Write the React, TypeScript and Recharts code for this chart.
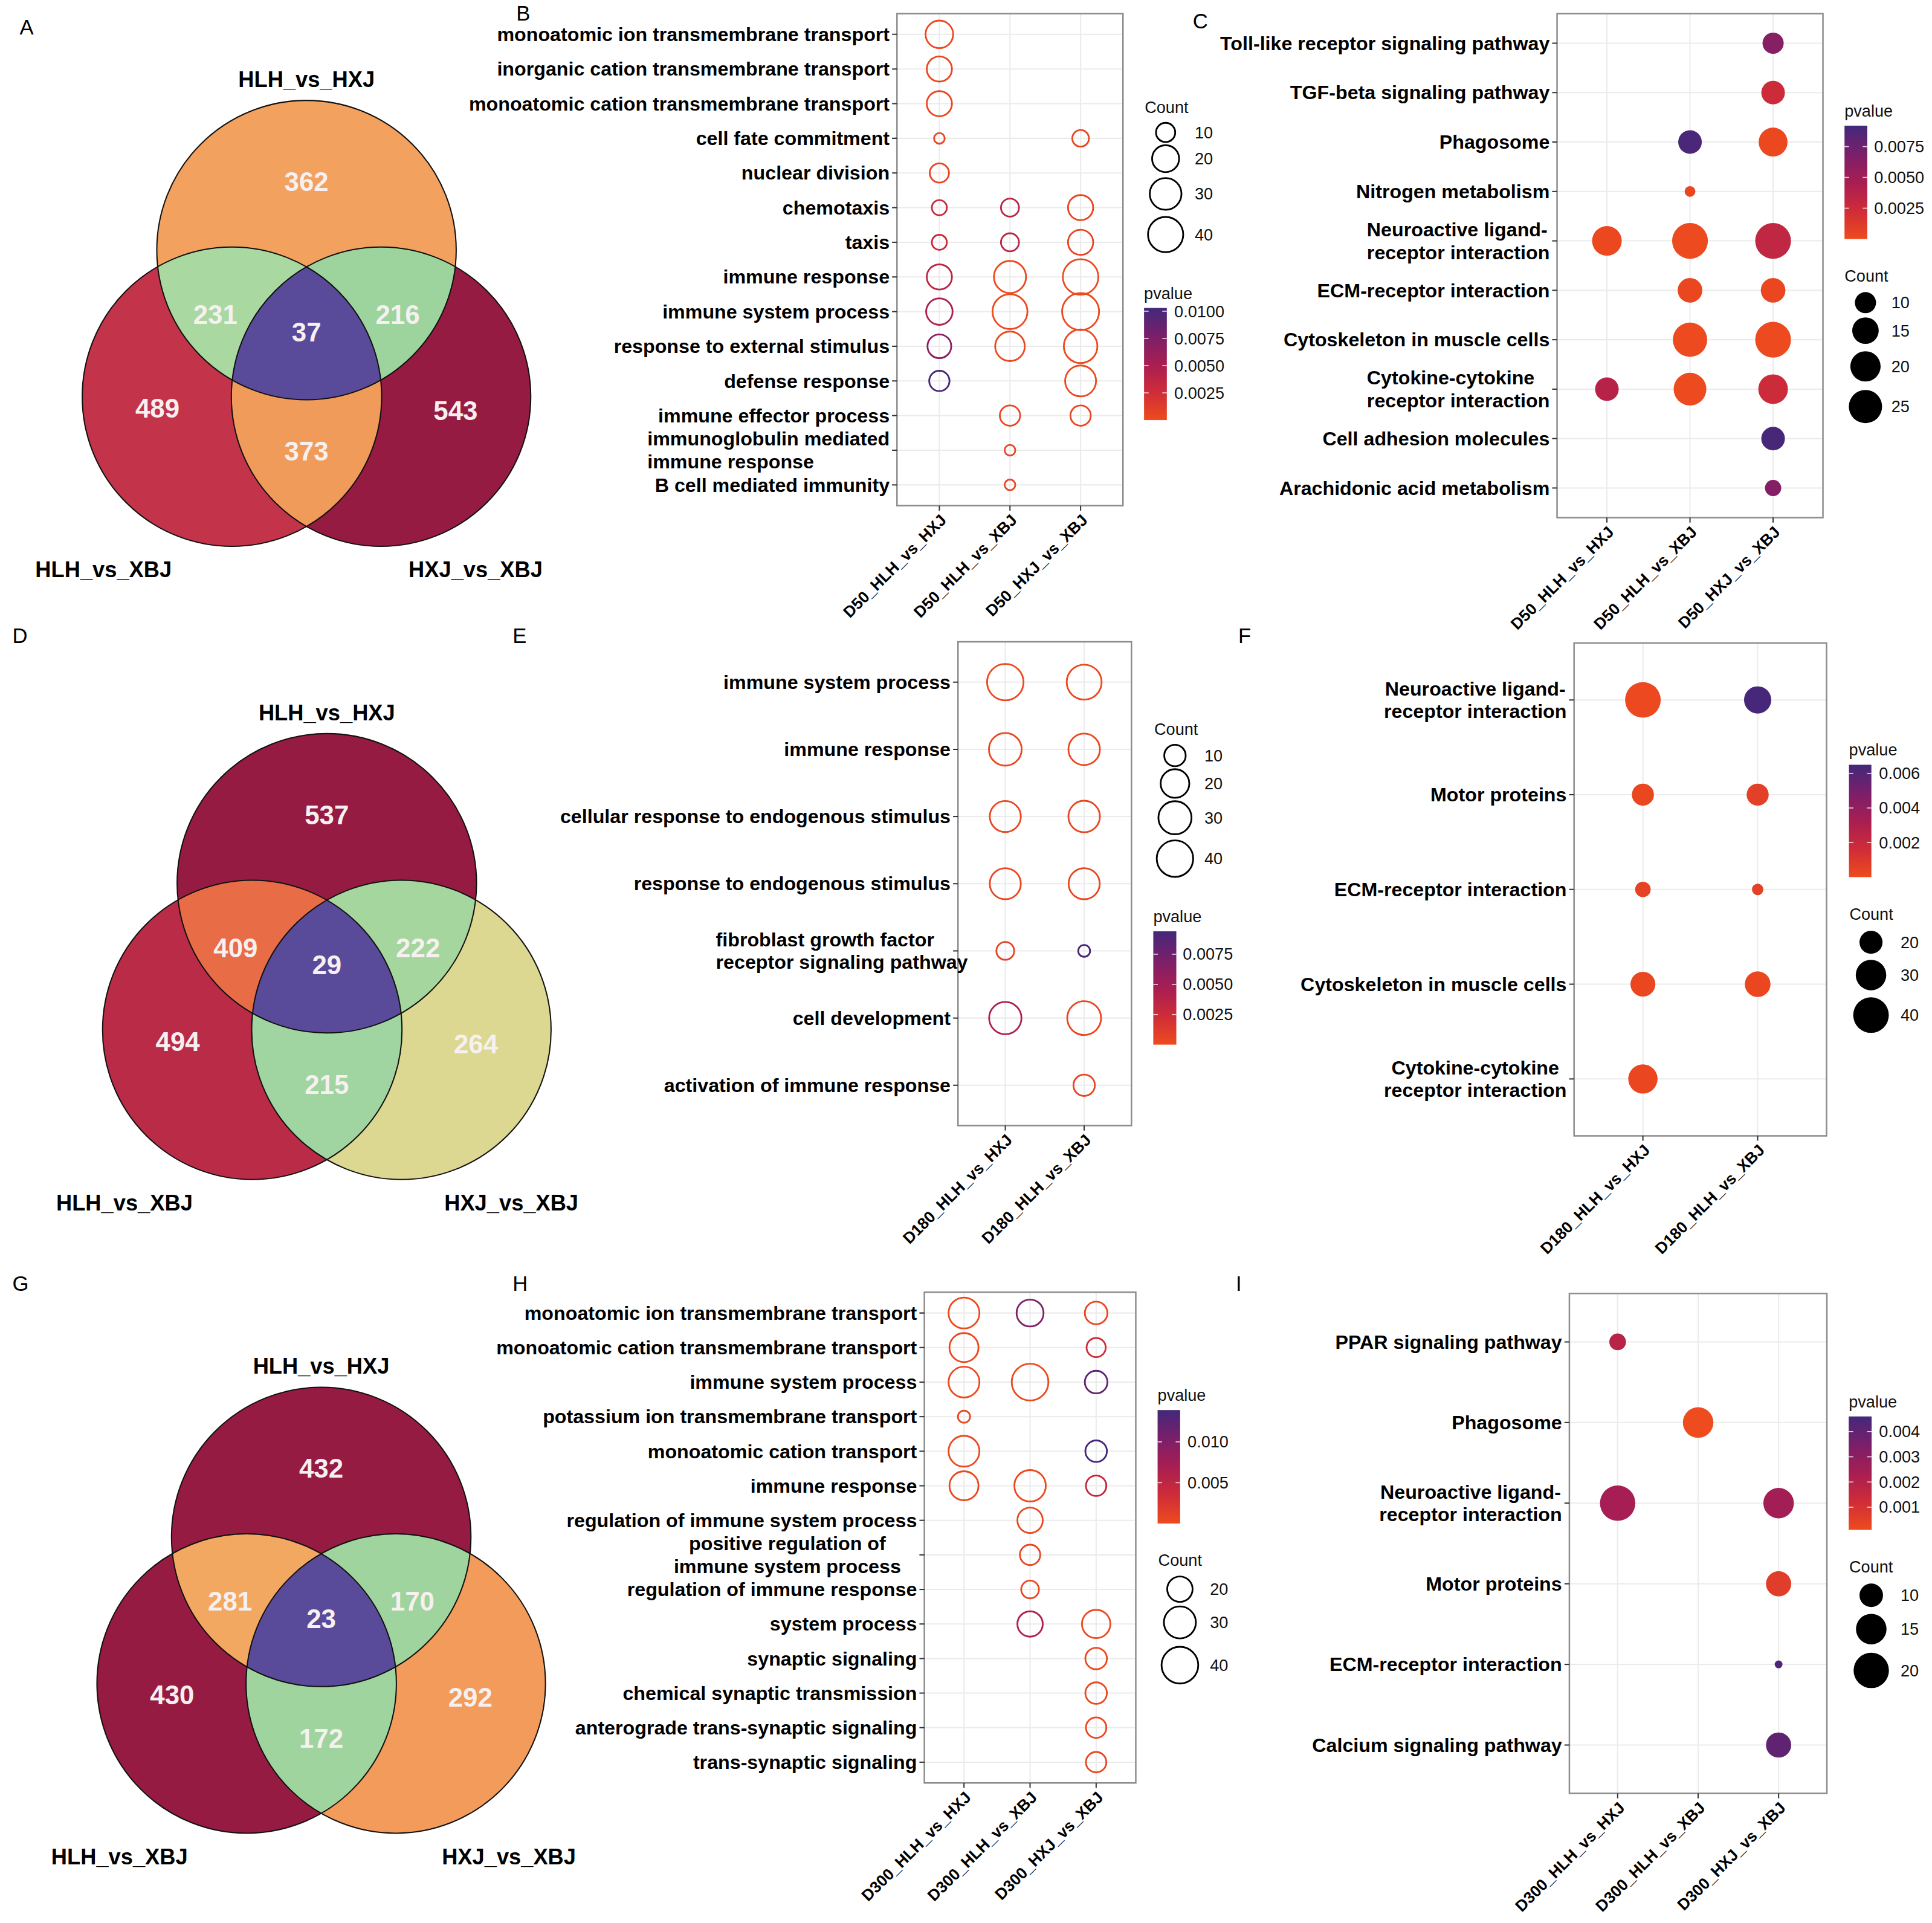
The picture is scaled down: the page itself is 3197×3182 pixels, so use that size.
import React from 'react';
import { ScatterChart, Scatter, XAxis, YAxis, ZAxis, CartesianGrid, ReferenceArea } from 'recharts';

const FONT = '"Liberation Sans", Arial, Helvetica, sans-serif';
// the figure is laid out on a 1568 x 1561 grid and scaled up to the page
const SX = 3197 / 1568;
const SY = 3182 / 1561;

// ---------- Venn data ----------
const vennSets = ['HLH_vs_HXJ', 'HLH_vs_XBJ', 'HXJ_vs_XBJ'];
// order: top only, left only, right only, top&left, top&right, left&right, all three
const vennA = [362, 489, 543, 231, 216, 373, 37];
const vennD = [537, 494, 264, 409, 222, 215, 29];
const vennG = [432, 430, 292, 281, 170, 172, 23];

// ---------- bubble data ----------
const d50Comps = ['D50_HLH_vs_HXJ', 'D50_HLH_vs_XBJ', 'D50_HXJ_vs_XBJ'];
const d180Comps = ['D180_HLH_vs_HXJ', 'D180_HLH_vs_XBJ'];
const d300Comps = ['D300_HLH_vs_HXJ', 'D300_HLH_vs_XBJ', 'D300_HXJ_vs_XBJ'];

const bTerms = [
  'monoatomic ion transmembrane transport',
  'inorganic cation transmembrane transport',
  'monoatomic cation transmembrane transport',
  'cell fate commitment',
  'nuclear division',
  'chemotaxis',
  'taxis',
  'immune response',
  'immune system process',
  'response to external stimulus',
  'defense response',
  'immune effector process',
  'immunoglobulin mediated\nimmune response',
  'B cell mediated immunity',
];
const bCount = [
  [21, null, null], [17, null, null], [17, null, null], [5, null, 8], [10, null, null],
  [7, 9, 17], [7, 9, 17], [17, 31, 41], [19, 39, 46], [15, 25, 35],
  [11, null, 28], [null, 11, 11], [null, 5, null], [null, 5, null],
];
const bPval = [
  [0.0002, null, null], [0.0003, null, null], [0.0003, null, null], [0.0004, null, 0.0004], [0.0005, null, null],
  [0.003, 0.0039, 0.0004], [0.003, 0.0039, 0.0004], [0.0039, 0.0001, 0.0001], [0.0046, 0.0001, 0.0001], [0.0067, 0.0002, 0.0001],
  [0.0101, null, 0.0002], [null, 0.0003, 0.0004], [null, 0.0004, null], [null, 0.0004, null],
];

const cTerms = [
  'Toll-like receptor signaling pathway',
  'TGF-beta signaling pathway',
  'Phagosome',
  'Nitrogen metabolism',
  'Neuroactive ligand-\nreceptor interaction',
  'ECM-receptor interaction',
  'Cytoskeleton in muscle cells',
  'Cytokine-cytokine\nreceptor interaction',
  'Cell adhesion molecules',
  'Arachidonic acid metabolism',
];
const cCount = [
  [null, null, 10], [null, null, 12], [null, 12, 18], [null, 5, null], [19, 30, 30],
  [null, 13, 13], [null, 27, 30], [12, 24, 19], [null, null, 12], [null, null, 7],
];
const cPval = [
  [null, null, 0.0063], [null, null, 0.0025], [null, 0.0089, 0.0002], [null, 0.0003, null], [0.0002, 0.0001, 0.0032],
  [null, 0.0003, 0.0003], [null, 0.0001, 0.0001], [0.0037, 0.0001, 0.0025], [null, null, 0.009], [null, null, 0.0064],
];

const eTerms = [
  'immune system process',
  'immune response',
  'cellular response to endogenous stimulus',
  'response to endogenous stimulus',
  'fibroblast growth factor\nreceptor signaling pathway',
  'cell development',
  'activation of immune response',
];
const eCount = [[40, 35], [29, 26], [25, 26], [25, 25], [7, 4], [28, 32], [null, 10]];
const ePval = [
  [0.0001, 0.0001], [0.0002, 0.0002], [0.0003, 0.0003], [0.0003, 0.0003],
  [0.0005, 0.0092], [0.0043, 0.0003], [null, 0.0004],
];

const fTerms = [
  'Neuroactive ligand-\nreceptor interaction',
  'Motor proteins',
  'ECM-receptor interaction',
  'Cytoskeleton in muscle cells',
  'Cytokine-cytokine\nreceptor interaction',
];
const fCount = [[40, 25], [19, 19], [14, 12], [22, 23], [28, null]];
const fPval = [[0.0001, 0.0064], [0.0002, 0.0006], [0.0004, 0.0005], [0.0002, 0.0002], [0.0002, null]];

const hTerms = [
  'monoatomic ion transmembrane transport',
  'monoatomic cation transmembrane transport',
  'immune system process',
  'potassium ion transmembrane transport',
  'monoatomic cation transport',
  'immune response',
  'regulation of immune system process',
  'positive regulation of\nimmune system process',
  'regulation of immune response',
  'system process',
  'synaptic signaling',
  'chemical synaptic transmission',
  'anterograde trans-synaptic signaling',
  'trans-synaptic signaling',
];
const hCount = [
  [28, 22, 17], [25, null, 14], [28, 40, 17], [10, null, null], [28, null, 16],
  [25, 29, 15], [null, 20, null], [null, 15, null], [null, 13, null], [null, 20, 24],
  [null, null, 16], [null, null, 16], [null, null, 15], [null, null, 15],
];
const hPval = [
  [0.0001, 0.01, 0.0004], [0.0002, null, 0.0035], [0.0001, 0.0001, 0.0122], [0.0004, null, null], [0.0002, null, 0.0136],
  [0.0002, 0.0002, 0.0045], [null, 0.0003, null], [null, 0.0004, null], [null, 0.0004, null], [null, 0.0063, 0.0001],
  [null, null, 0.0002], [null, null, 0.0002], [null, null, 0.0003], [null, null, 0.0003],
];

const iTerms = [
  'PPAR signaling pathway',
  'Phagosome',
  'Neuroactive ligand-\nreceptor interaction',
  'Motor proteins',
  'ECM-receptor interaction',
  'Calcium signaling pathway',
];
const iCount = [[7, null, null], [null, 15, null], [20, null, 15], [null, null, 11], [null, null, 5], [null, null, 11]];
const iPval = [
  [0.0019, null, null], [null, 0.0001, null], [0.0024, null, 0.0025],
  [null, null, 0.0006], [null, null, 0.0044], [null, null, 0.004],
];

// ---------- helpers ----------
const PAL = [
  [238, 75, 30],
  [207, 44, 56],
  [168, 30, 82],
  [122, 31, 106],
  [67, 40, 122],
];
function pColor(p: number, dom: [number, number]) {
  let t = (p - dom[0]) / (dom[1] - dom[0]);
  t = Math.max(0, Math.min(1, t));
  const s = t * (PAL.length - 1);
  const i = Math.min(PAL.length - 2, Math.floor(s));
  const f = s - i;
  const c = PAL[i].map((v, k) => Math.round(v + (PAL[i + 1][k] - v) * f));
  return `rgb(${c[0]},${c[1]},${c[2]})`;
}

let measureCtx: CanvasRenderingContext2D | null = null;
function textWidth(s: string, font: string) {
  if (!measureCtx) measureCtx = document.createElement('canvas').getContext('2d');
  if (!measureCtx) return s.length * 8;
  measureCtx.font = font;
  return measureCtx.measureText(s).width;
}

const YFS = 15.8;

function YTick(props: any) {
  const { x, y, payload, terms, align, mlDx } = props;
  const label: string = terms[payload.value - 1] ?? '';
  const lines = label.split('\n');
  if (lines.length === 1) {
    return (
      <text x={x} y={y} dy={5.5} textAnchor="end" fontFamily={FONT} fontWeight="bold" fontSize={YFS} fill="#000">
        {label}
      </text>
    );
  }
  const w = Math.max(...lines.map((l) => textWidth(l, `bold ${YFS}px ${FONT}`)));
  const lh = 18.5;
  const lx = (align === 'left' ? x - w : x - w / 2) + (mlDx || 0);
  return (
    <text fontFamily={FONT} fontWeight="bold" fontSize={YFS} fill="#000" textAnchor={align === 'left' ? 'start' : 'middle'}>
      {lines.map((ln, k) => (
        <tspan key={k} x={lx} y={y + 5.5 + (k - (lines.length - 1) / 2) * lh}>
          {ln}
        </tspan>
      ))}
    </text>
  );
}

function XTick(props: any) {
  const { x, y, payload, comps } = props;
  const px = x + 6.5;
  const py = y + 6.5;
  return (
    <text x={px} y={py} transform={`rotate(-45 ${px} ${py})`} textAnchor="end" fontFamily={FONT} fontWeight="bold" fontSize={13} fill="#000">
      {comps[payload.value - 1]}
    </text>
  );
}

type PanelProps = {
  terms: string[];
  comps: string[];
  counts: (number | null)[][];
  pvals: (number | null)[][];
  box: [number, number, number, number];
  left: number;
  hollow: boolean;
  pDom: [number, number];
  sizeA: number;
  sizeB: number;
  align: 'left' | 'center';
  mlDx?: number;
};

function BubblePanel(p: PanelProps) {
  const [l, t, r, b] = p.box;
  const pts: { x: number; y: number; z: number; p: number }[] = [];
  p.counts.forEach((row, i) =>
    row.forEach((c, j) => {
      if (c != null) pts.push({ x: j + 1, y: i + 1, z: c, p: p.pvals[i][j] as number });
    })
  );
  const zs = pts.map((d) => d.z);
  const zMin = Math.min(...zs);
  const zMax = Math.max(...zs);
  const area = (v: number) => p.sizeA + p.sizeB * Math.sqrt(v);
  const nX = p.comps.length;
  const nY = p.terms.length;
  const pad = 4;
  const xh = 110;
  const width = r - p.left + pad;
  const height = b - t + pad + xh + pad;
  const xTicks = p.comps.map((_, i) => i + 1);
  const yTicks = p.terms.map((_, i) => i + 1);

  return (
    <div style={{ position: 'absolute', left: p.left, top: t - pad }}>
      <ScatterChart width={width} height={height} margin={{ top: pad, right: pad, bottom: pad, left: 0 }}>
        <CartesianGrid stroke="#ebebeb" strokeWidth={1} />
        <XAxis
          type="number"
          dataKey="x"
          domain={[0.4, nX + 0.6]}
          ticks={xTicks}
          interval={0}
          allowDataOverflow
          height={xh}
          axisLine={false}
          tickSize={4}
          tickLine={{ stroke: '#333' }}
          tick={(tp: any) => <XTick {...tp} comps={p.comps} />}
        />
        <YAxis
          type="number"
          dataKey="y"
          domain={[0.4, nY + 0.6]}
          reversed
          ticks={yTicks}
          interval={0}
          allowDataOverflow
          width={l - p.left}
          axisLine={false}
          tickSize={4}
          tickMargin={2}
          tickLine={{ stroke: '#333' }}
          tick={(tp: any) => <YTick {...tp} terms={p.terms} align={p.align} mlDx={p.mlDx} />}
        />
        <ZAxis type="number" dataKey="z" domain={[zMin, zMax]} range={[area(zMin), area(zMax)]} scale="sqrt" />
        <ReferenceArea x1={0.4} x2={nX + 0.6} y1={0.4} y2={nY + 0.6} fill="none" fillOpacity={0} stroke="#8c8c8c" strokeWidth={1.2} />
        <Scatter
          data={pts}
          isAnimationActive={false}
          shape={(sp: any) => {
            const rr = sp.size != null ? Math.sqrt(Math.max(sp.size, 0) / Math.PI) : sp.width / 2;
            const col = pColor(sp.payload.p, p.pDom);
            return p.hollow ? (
              <circle cx={sp.cx} cy={sp.cy} r={rr} fill="none" stroke={col} strokeWidth={1.4} />
            ) : (
              <circle cx={sp.cx} cy={sp.cy} r={rr} fill={col} />
            );
          }}
        />
      </ScatterChart>
    </div>
  );
}

// ---------- legends ----------
function ColorBar(props: { id: string; x: number; y: number; w: number; h: number; dom: [number, number]; ticks: number[]; labels: string[]; labelX: number }) {
  const { id, x, y, w, h, dom, ticks, labels, labelX } = props;
  const stops = [0, 0.25, 0.5, 0.75, 1];
  return (
    <g>
      <defs>
        <linearGradient id={id} x1="0" y1="1" x2="0" y2="0">
          {stops.map((s) => (
            <stop key={s} offset={s} stopColor={pColor(dom[0] + s * (dom[1] - dom[0]), dom)} />
          ))}
        </linearGradient>
      </defs>
      <text x={x} y={y - 12} fontFamily={FONT} fontSize={13.3} fill="#111" dominantBaseline="central">
        pvalue
      </text>
      <rect x={x} y={y} width={w} height={h} fill={`url(#${id})`} />
      {ticks.map((v, k) => {
        const ty = y + (1 - (v - dom[0]) / (dom[1] - dom[0])) * h;
        return (
          <g key={k}>
            <line x1={x} x2={x + w * 0.2} y1={ty} y2={ty} stroke="#fff" strokeWidth={0.8} opacity={0.8} />
            <line x1={x + w * 0.8} x2={x + w} y1={ty} y2={ty} stroke="#fff" strokeWidth={0.8} opacity={0.8} />
            <text x={labelX} y={ty} fontFamily={FONT} fontSize={13.3} fill="#111" dominantBaseline="central">
              {labels[k]}
            </text>
          </g>
        );
      })}
    </g>
  );
}

function SizeKey(props: { titleX: number; titleY: number; cx: number; cys: number[]; values: number[]; labelX: number; hollow: boolean; a: number; b: number }) {
  const { titleX, titleY, cx, cys, values, labelX, hollow, a, b } = props;
  return (
    <g>
      <text x={titleX} y={titleY} fontFamily={FONT} fontSize={13.3} fill="#111" dominantBaseline="central">
        Count
      </text>
      {values.map((v, k) => {
        const rr = Math.sqrt(Math.max(a + b * Math.sqrt(v), 0) / Math.PI);
        return (
          <g key={k}>
            {hollow ? (
              <circle cx={cx} cy={cys[k]} r={rr} fill="none" stroke="#000" strokeWidth={1.4} />
            ) : (
              <circle cx={cx} cy={cys[k]} r={rr} fill="#000" />
            )}
            <text x={labelX} y={cys[k]} fontFamily={FONT} fontSize={13.3} fill="#111" dominantBaseline="central">
              {v}
            </text>
          </g>
        );
      })}
    </g>
  );
}

// ---------- Venn ----------
function Venn(props: { id: string; mx: number; my: number; counts: number[]; colors: string[]; botX: [number, number] }) {
  const { id, mx, my, counts, colors, botX } = props;
  const r = 121.5;
  const dx = 60.5;
  const dy = 119;
  const T = { x: mx, y: my - dy };
  const L = { x: mx - dx, y: my };
  const R = { x: mx + dx, y: my };
  const gy = my - dy / 3;
  const offs = [
    [0, -135],
    [-121, 49],
    [121, 51],
    [-74, -27],
    [74, -27],
    [0, 84],
    [0, -13],
  ];
  const circ = (c: { x: number; y: number }, fill: string) => <circle cx={c.x} cy={c.y} r={r} fill={fill} />;
  return (
    <g>
      <defs>
        <clipPath id={`${id}T`}>
          <circle cx={T.x} cy={T.y} r={r} />
        </clipPath>
        <clipPath id={`${id}L`}>
          <circle cx={L.x} cy={L.y} r={r} />
        </clipPath>
      </defs>
      {circ(T, colors[0])}
      {circ(L, colors[1])}
      {circ(R, colors[2])}
      <g clipPath={`url(#${id}T)`}>{circ(L, colors[3])}</g>
      <g clipPath={`url(#${id}T)`}>{circ(R, colors[4])}</g>
      <g clipPath={`url(#${id}L)`}>{circ(R, colors[5])}</g>
      <g clipPath={`url(#${id}T)`}>
        <g clipPath={`url(#${id}L)`}>{circ(R, colors[6])}</g>
      </g>
      {[T, L, R].map((c, k) => (
        <circle key={k} cx={c.x} cy={c.y} r={r} fill="none" stroke="#111" strokeWidth={1} />
      ))}
      {counts.map((n, k) => (
        <text
          key={k}
          x={mx + offs[k][0]}
          y={gy + offs[k][1]}
          textAnchor="middle"
          dominantBaseline="central"
          fontFamily={FONT}
          fontWeight="bold"
          fontSize={21.5}
          fill="#f6f0f0"
        >
          {n}
        </text>
      ))}
      <text x={mx} y={T.y - r - 17} textAnchor="middle" dominantBaseline="central" fontFamily={FONT} fontWeight="bold" fontSize={17.8} fill="#000">
        {vennSets[0]}
      </text>
      <text x={botX[0]} y={my + r + 19} textAnchor="middle" dominantBaseline="central" fontFamily={FONT} fontWeight="bold" fontSize={17.8} fill="#000">
        {vennSets[1]}
      </text>
      <text x={botX[1]} y={my + r + 19} textAnchor="middle" dominantBaseline="central" fontFamily={FONT} fontWeight="bold" fontSize={17.8} fill="#000">
        {vennSets[2]}
      </text>
    </g>
  );
}

const letters: [string, number, number][] = [
  ['A', 16, 22],
  ['B', 419, 11],
  ['C', 968, 17],
  ['D', 10, 516],
  ['E', 416, 516],
  ['F', 1005, 516],
  ['G', 10, 1042],
  ['H', 416, 1042],
  ['I', 1003, 1042],
];

export default function App() {
  return (
    <div style={{ position: 'absolute', left: 0, top: 0, width: 3197, height: 3182, background: '#fff', overflow: 'hidden' }}>
      <div
        style={{
          position: 'absolute',
          left: 0,
          top: 0,
          width: 1568,
          height: 1561,
          transform: `scale(${SX}, ${SY})`,
          transformOrigin: '0 0',
          fontFamily: FONT,
        }}
      >
        <svg width={1568} height={1561} style={{ position: 'absolute', left: 0, top: 0 }}>
          {letters.map(([s, x, y]) => (
            <text key={s} x={x} y={y} dominantBaseline="central" fontFamily={FONT} fontSize={17} fill="#000">
              {s}
            </text>
          ))}
          <Venn id="va" mx={248.75} my={322} counts={vennA} botX={[84, 386]}
            colors={['#F2A15F', '#C3334A', '#951B42', '#A9D8A0', '#9DD49E', '#F19B5A', '#5A4A9A']} />
          <Venn id="vd" mx={265.25} my={836} counts={vennD} botX={[101, 415]}
            colors={['#961B42', '#B92B47', '#DDD891', '#E86C45', '#A5D69D', '#A0D4A0', '#5A4A9A']} />
          <Venn id="vg" mx={260.7} my={1366.6} counts={vennG} botX={[97, 413]}
            colors={['#961B42', '#961B42', '#F29B5B', '#F3A861', '#A0D49E', '#A0D49E', '#5A4A9A']} />

          {/* B legends */}
          <SizeKey titleX={929} titleY={87} cx={946} cys={[107.5, 128.8, 157.4, 190.4]} values={[10, 20, 30, 40]} labelX={969.6} hollow a={-260} b={142.6} />
          <ColorBar id="cbB" x={928.5} y={250} w={18.5} h={91} dom={[0, 0.0103]} ticks={[0.0025, 0.005, 0.0075, 0.01]} labels={['0.0025', '0.0050', '0.0075', '0.0100']} labelX={953} />
          {/* C legends */}
          <ColorBar id="cbC" x={1497} y={102} w={18.5} h={92} dom={[0, 0.0092]} ticks={[0.0025, 0.005, 0.0075]} labels={['0.0025', '0.0050', '0.0075']} labelX={1521} />
          <SizeKey titleX={1497} titleY={224} cx={1514} cys={[245.7, 268.4, 297.4, 330]} values={[10, 15, 20, 25]} labelX={1535} hollow={false} a={-354.6} b={185.5} />
          {/* E legends */}
          <SizeKey titleX={936.8} titleY={592} cx={953.6} cys={[613.3, 636, 663.8, 697]} values={[10, 20, 30, 40]} labelX={977.5} hollow a={-212} b={142.3} />
          <ColorBar id="cbE" x={936} y={756} w={18.7} h={92} dom={[0, 0.0094]} ticks={[0.0025, 0.005, 0.0075]} labels={['0.0025', '0.0050', '0.0075']} labelX={960} />
          {/* F legends */}
          <ColorBar id="cbF" x={1500.6} y={620.8} w={18.2} h={91.2} dom={[0, 0.0065]} ticks={[0.002, 0.004, 0.006]} labels={['0.002', '0.004', '0.006']} labelX={1525} />
          <SizeKey titleX={1501} titleY={742} cx={1518.5} cys={[764.9, 791.5, 824]} values={[20, 30, 40]} labelX={1542.5} hollow={false} a={-644.5} b={205.6} />
          {/* H legends */}
          <ColorBar id="cbH" x={939.5} y={1144.6} w={18.3} h={92.1} dom={[0, 0.0139]} ticks={[0.005, 0.01]} labels={['0.005', '0.010']} labelX={963.8} />
          <SizeKey titleX={940} titleY={1266.6} cx={957.6} cys={[1290, 1317, 1351.7]} values={[20, 30, 40]} labelX={982} hollow a={-545.3} b={196.4} />
          {/* I legends */}
          <ColorBar id="cbI" x={1500.4} y={1149.8} w={18.6} h={92.1} dom={[0.0001, 0.0046]} ticks={[0.001, 0.002, 0.003, 0.004]} labels={['0.001', '0.002', '0.003', '0.004']} labelX={1525} />
          <SizeKey titleX={1500.8} titleY={1271.8} cx={1518.7} cys={[1295, 1322.4, 1356]} values={[10, 15, 20]} labelX={1542.5} hollow={false} a={-583.7} b={275.2} />
        </svg>

        <BubblePanel terms={bTerms} comps={d50Comps} counts={bCount} pvals={bPval} box={[728, 11.2, 911.4, 410.7]} left={360} hollow pDom={[0, 0.0103]} sizeA={-260} sizeB={142.6} align="left" />
        <BubblePanel terms={cTerms} comps={d50Comps} counts={cCount} pvals={cPval} box={[1263.7, 11.3, 1479.5, 420.5]} left={965} hollow={false} pDom={[0, 0.0092]} sizeA={-354.6} sizeB={185.5} align="left" />
        <BubblePanel terms={eTerms} comps={d180Comps} counts={eCount} pvals={ePval} box={[777.5, 521, 918.3, 913.7]} left={430} hollow pDom={[0, 0.0094]} sizeA={-212} sizeB={142.3} align="left" mlDx={14} />
        <BubblePanel terms={fTerms} comps={d180Comps} counts={fCount} pvals={fPval} box={[1277.5, 522, 1482.4, 922]} left={1030} hollow={false} pDom={[0, 0.0065]} sizeA={-644.5} sizeB={205.6} align="center" />
        <BubblePanel terms={hTerms} comps={d300Comps} counts={hCount} pvals={hPval} box={[750.2, 1049.2, 921.8, 1447.5]} left={385} hollow pDom={[0, 0.0139]} sizeA={-545.3} sizeB={196.4} align="center" mlDx={-13} />
        <BubblePanel terms={iTerms} comps={d300Comps} counts={iCount} pvals={iPval} box={[1273.7, 1050.3, 1482.7, 1456.1]} left={1015} hollow={false} pDom={[0.0001, 0.0046]} sizeA={-583.7} sizeB={275.2} align="center" />
      </div>
    </div>
  );
}
